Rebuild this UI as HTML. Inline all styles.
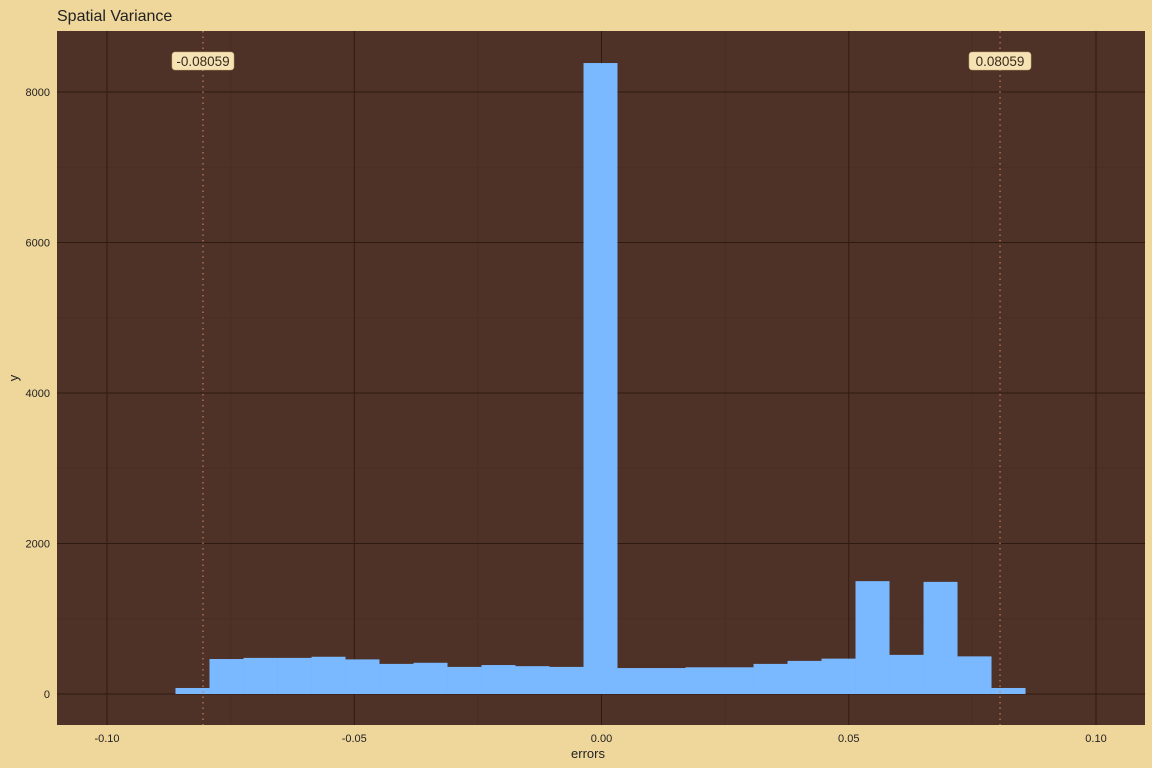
<!DOCTYPE html>
<html><head><meta charset="utf-8"><style>
body{margin:0;background:#EFD69B;}
svg{display:block;font-family:"Liberation Sans",sans-serif;}
</style></head><body>
<svg width="1152" height="768" id="c">
<rect width="1152" height="768" fill="#EFD69B"/>
<text x="57" y="21" font-size="16" fill="#222">Spatial Variance</text>
<rect x="57" y="31" width="1088" height="694" fill="#4F3227"/>
<g id="grid"></g><g id="bars"></g><g id="ann"></g><g id="axes"></g>
<text x="588" y="758" font-size="13" fill="#222" text-anchor="middle">errors</text>
<text x="18" y="378" font-size="13" fill="#222" text-anchor="middle" transform="rotate(-90 18 378)">y</text>
</svg>
<script>
const binCounts=[80,465,480,480,495,460,400,415,360,385,370,360,8385,345,345,355,355,400,440,470,1500,520,1490,500,80];
const binWidth=0.006876;
const xTicks=[-0.10,-0.05,0.00,0.05,0.10];
const xTickLabels=["-0.10","-0.05","0.00","0.05","0.10"];
const yTicks=[0,2000,4000,6000,8000];
const cutoffs=[-0.08059,0.08059];
const cutoffLabels=["-0.08059","0.08059"];
const NS="http://www.w3.org/2000/svg";
const X=v=>601.5+v*4945, Y=v=>694-v*150.5/2000;
function mk(p,t,a){const e=document.createElementNS(NS,t);for(const k in a)e.setAttribute(k,a[k]);document.getElementById(p).appendChild(e);return e;}
[-0.075,-0.025,0.025,0.075].forEach(v=>{const e=mk('grid','line',{x1:X(v),x2:X(v),y1:31,y2:725,stroke:'#4a2e23','stroke-width':1});

});
[1000,3000,5000,7000].forEach(v=>{const e=mk('grid','line',{x1:57,x2:1145,y1:Y(v),y2:Y(v),stroke:'#4a2e23','stroke-width':1});

});
xTicks.forEach((v,i)=>{const e=mk('grid','line',{x1:X(v),x2:X(v),y1:31,y2:725,stroke:'#2e1a12','stroke-width':1});


const t=mk('axes','text',{x:X(v),y:742,'font-size':11,fill:'#222','text-anchor':'middle'});t.textContent=xTickLabels[i];

});
yTicks.forEach(v=>{const e=mk('grid','line',{x1:57,x2:1145,y1:Y(v),y2:Y(v),stroke:'#2e1a12','stroke-width':1});


const t=mk('axes','text',{x:50,y:Y(v)+4,'font-size':11,fill:'#222','text-anchor':'end'});t.textContent=v;

});
binCounts.forEach((c,i)=>{const ctr=(i-12)*binWidth;const x0=X(ctr-binWidth/2)-1,x1=X(ctr+binWidth/2)-1;
const r=mk('bars','rect',{x:x0,y:Y(c),width:x1-x0,height:Y(0)-Y(c),fill:'#7AB8FF'});

});
cutoffs.forEach((v,i)=>{const l=mk('ann','line',{x1:X(v),x2:X(v),y1:31,y2:725,stroke:'#C47A5E','stroke-width':1.2,'stroke-dasharray':'1.5 4'});


const w=62;const b=mk('ann','rect',{x:X(v)-w/2,y:52,width:w,height:18,rx:3,fill:'#F5E3B5',stroke:'#caa86a','stroke-width':0.5});


const t=mk('ann','text',{x:X(v),y:66,'font-size':13.5,fill:'#3a2a1a','text-anchor':'middle'});t.textContent=cutoffLabels[i];

});
</script>
</body></html>
